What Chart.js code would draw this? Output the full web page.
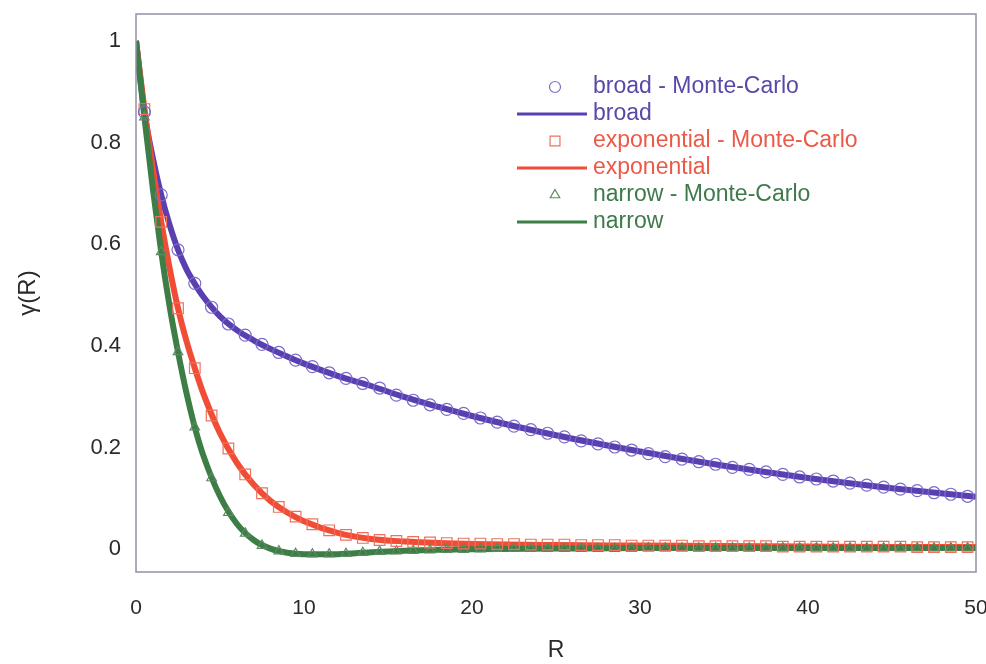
<!DOCTYPE html>
<html>
<head>
<meta charset="utf-8">
<script src="https://cdn.jsdelivr.net/npm/chart.js@4.4.1/dist/chart.umd.min.js"></script>
<style>
  html, body { margin: 0; padding: 0; background: #fff; }
  #wrap { width: 986px; height: 664px; }
</style>
</head>
<body>
<div id="wrap"><canvas id="chart" width="986" height="664"></canvas></div>
<script>
// Monte-Carlo sample positions
const mcR = [0.5, 1.5, 2.5, 3.5, 4.5, 5.5, 6.5, 7.5, 8.5, 9.5,
  10.5, 11.5, 12.5, 13.5, 14.5, 15.5, 16.5, 17.5, 18.5, 19.5,
  20.5, 21.5, 22.5, 23.5, 24.5, 25.5, 26.5, 27.5, 28.5, 29.5,
  30.5, 31.5, 32.5, 33.5, 34.5, 35.5, 36.5, 37.5, 38.5, 39.5,
  40.5, 41.5, 42.5, 43.5, 44.5, 45.5, 46.5, 47.5, 48.5, 49.5];

const broadMC = [0.860, 0.697, 0.589, 0.523, 0.476, 0.443, 0.421, 0.403, 0.387, 0.372,
  0.359, 0.347, 0.336, 0.326, 0.317, 0.303, 0.293, 0.284, 0.275, 0.267,
  0.258, 0.250, 0.242, 0.235, 0.228, 0.221, 0.213, 0.207, 0.201, 0.195,
  0.188, 0.182, 0.177, 0.172, 0.167, 0.161, 0.157, 0.152, 0.147, 0.142,
  0.138, 0.134, 0.130, 0.126, 0.122, 0.118, 0.115, 0.111, 0.108, 0.104];

const expMC = [0.866, 0.644, 0.474, 0.356, 0.263, 0.198, 0.147, 0.110, 0.083, 0.064,
  0.049, 0.037, 0.028, 0.022, 0.018, 0.016, 0.014, 0.013, 0.012, 0.011,
  0.011, 0.010, 0.010, 0.009, 0.009, 0.009, 0.008, 0.008, 0.008, 0.007,
  0.007, 0.007, 0.007, 0.006, 0.006, 0.006, 0.006, 0.006, 0.005, 0.005,
  0.005, 0.005, 0.005, 0.005, 0.005, 0.005, 0.004, 0.004, 0.004, 0.004];

const narrowMC = [0.850, 0.585, 0.388, 0.240, 0.140, 0.072, 0.031, 0.007, -0.004, -0.009,
  -0.010, -0.010, -0.009, -0.007, -0.005, -0.004, -0.003, -0.002, -0.001, -0.001,
  0.000, 0.001, 0.001, 0.001, 0.001, 0.001, 0.001, 0.001, 0.001, 0.001,
  0.002, 0.002, 0.002, 0.002, 0.002, 0.002, 0.002, 0.002, 0.002, 0.002,
  0.002, 0.002, 0.002, 0.002, 0.002, 0.002, 0.002, 0.002, 0.002, 0.002];

// fitted curves
const lineR = [0, 0.5, 1, 1.5, 2, 2.5, 3, 3.5, 4, 5, 6, 7, 8, 9, 10, 12, 14, 16, 18, 20, 25, 30, 35, 40, 45, 50];
const broadLine = [1, 0.86, 0.77, 0.697, 0.638, 0.589, 0.551, 0.522, 0.497, 0.458, 0.431, 0.411, 0.394,
  0.379, 0.365, 0.341, 0.321, 0.299, 0.280, 0.262, 0.224, 0.192, 0.164, 0.140, 0.120, 0.103];
const expLine = [1, 0.866, 0.75, 0.644, 0.553, 0.474, 0.41, 0.356, 0.307, 0.228, 0.170, 0.127, 0.095,
  0.072, 0.055, 0.032, 0.020, 0.015, 0.012, 0.010, 0.008, 0.007, 0.006, 0.005, 0.004, 0.004];
const narrowLine = [1, 0.85, 0.71, 0.585, 0.478, 0.388, 0.308, 0.240, 0.185, 0.104, 0.050, 0.018, 0.001,
  -0.007, -0.010, -0.010, -0.006, -0.003, -0.001, 0.000, 0.001, 0.002, 0.002, 0.002, 0.002, 0.002];

const xTicks = [0, 10, 20, 30, 40, 50];
const yTicks = [0, 0.2, 0.4, 0.6, 0.8, 1];

const labels = ["broad - Monte-Carlo", "broad", "exponential - Monte-Carlo", "exponential", "narrow - Monte-Carlo", "narrow"];
const textColors = ["#5a48a8", "#5a48a8", "#eb5a48", "#eb5a48", "#3f7a4c", "#3f7a4c"];

const pts = (xs, ys) => xs.map((x, i) => ({ x: x, y: ys[i] }));

function markers(label, data, style, color, r, order) {
  return {
    label: label, data: data, pointStyle: style, pointRadius: r,
    borderColor: color, backgroundColor: "rgba(0,0,0,0)", pointBorderWidth: 1.2,
    showLine: false, order: order
  };
}
function curve(label, data, color, order) {
  return {
    label: label, data: data, showLine: true, pointRadius: 0,
    borderColor: color, backgroundColor: color, borderWidth: 6,
    cubicInterpolationMode: "monotone", order: order
  };
}

// plot frame + legend inside the plot
const framePlugin = {
  id: "frame",
  afterDraw(chart) {
    const ctx = chart.ctx, a = chart.chartArea;
    ctx.save();
    ctx.strokeStyle = "#9090a8";
    ctx.lineWidth = 1.5;
    ctx.strokeRect(a.left, a.top, a.right - a.left, a.bottom - a.top);

    ctx.font = "23px 'Liberation Sans', Arial, sans-serif";
    ctx.textBaseline = "middle";
    chart.data.datasets.forEach((ds, i) => {
      const y = a.top + 73 + 27 * i;
      if (ds.showLine) {
        ctx.strokeStyle = ds.borderColor;
        ctx.lineWidth = 3;
        ctx.beginPath();
        ctx.moveTo(a.left + 381, y);
        ctx.lineTo(a.left + 451, y);
        ctx.stroke();
      } else {
        ctx.strokeStyle = ds.borderColor;
        ctx.fillStyle = "rgba(0,0,0,0)";
        ctx.lineWidth = 1.2;
        Chart.helpers.drawPoint(ctx, { pointStyle: ds.pointStyle, radius: ds.pointStyle === "rect" ? 7 : 5.5, rotation: 0, borderWidth: 1.2 }, a.left + 419, y);
      }
      ctx.fillStyle = textColors[i];
      ctx.textAlign = "left";
      ctx.fillText(ds.label, a.left + 457, y);
    });
    ctx.restore();
  }
};

new Chart(document.getElementById("chart"), {
  type: "scatter",
  data: {
    datasets: [
      markers(labels[0], pts(mcR, broadMC), "circle", "#7a6ccc", 6, 1),
      curve(labels[1], pts(lineR, broadLine), "#5a3fb0", 6),
      markers(labels[2], pts(mcR, expMC), "rect", "#f0705c", 7.5, 2),
      curve(labels[3], pts(lineR, expLine), "#f04c36", 5),
      markers(labels[4], pts(mcR, narrowMC), "triangle", "#5a8a62", 5.5, 3),
      curve(labels[5], pts(lineR, narrowLine), "#3d7d46", 4)
    ]
  },
  options: {
    responsive: false,
    animation: false,
    layout: { padding: { top: 14, right: 10, left: 0, bottom: 0 } },
    plugins: { legend: { display: false }, tooltip: { enabled: false } },
    scales: {
      x: {
        type: "linear", min: 0, max: 50,
        afterBuildTicks: (s) => { s.ticks = xTicks.map(v => ({ value: v })); },
        afterFit: (s) => { s.height = 92; s.paddingLeft = 0; s.paddingRight = 0; },
        grid: { display: false, drawTicks: false },
        border: { display: false },
        ticks: { color: "#2a2a2a", padding: 24, font: { family: "'Liberation Sans', Arial", size: 21 } },
        title: { display: true, text: "R", color: "#2a2a2a", padding: 0, font: { family: "'Liberation Sans', Arial", size: 23 } }
      },
      y: {
        type: "linear", min: -0.045, max: 1.053,
        afterBuildTicks: (s) => { s.ticks = yTicks.map(v => ({ value: v })); },
        afterFit: (s) => { s.width = 136; s.paddingTop = 0; s.paddingBottom = 0; },
        grid: { display: false, drawTicks: false },
        border: { display: false },
        ticks: { color: "#2a2a2a", padding: 15, font: { family: "'Liberation Sans', Arial", size: 22 },
          callback: (v) => String(+v.toFixed(1)) },
        title: { display: true, text: "γ(R)", color: "#2a2a2a", padding: { top: 14, bottom: 0 }, font: { family: "'Liberation Sans', Arial", size: 24 } }
      }
    }
  },
  plugins: [framePlugin]
});
</script>
</body>
</html>
